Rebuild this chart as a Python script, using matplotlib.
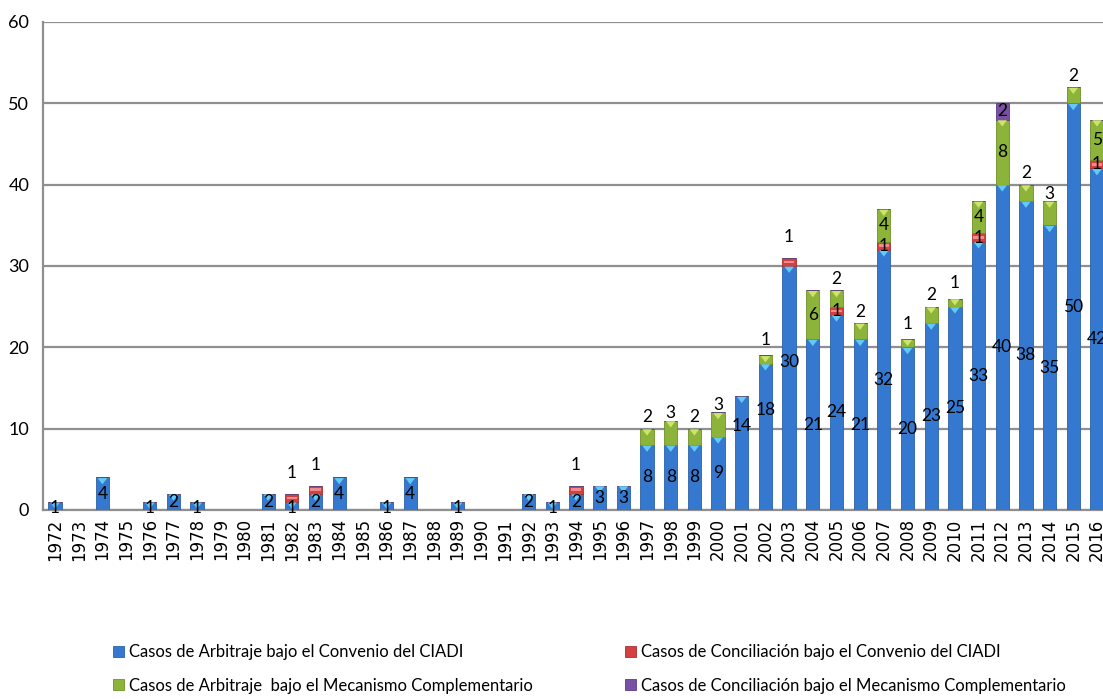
import matplotlib
matplotlib.use("Agg")
import matplotlib.pyplot as plt
from matplotlib.patches import Polygon, Rectangle
import numpy as np

years = [str(y) for y in range(1972, 2017)]
arbitraje_ciadi = [1, 0, 4, 0, 1, 2, 1, 0, 0, 2, 1, 2, 4, 0, 1, 4, 0, 1, 0, 0,
                   2, 1, 2, 3, 3, 8, 8, 8, 9, 14, 18, 30, 21, 24, 21, 32, 20, 23,
                   25, 33, 40, 38, 35, 50, 42]
conciliacion_ciadi = [0, 0, 0, 0, 0, 0, 0, 0, 0, 0, 1, 1, 0, 0, 0, 0, 0, 0, 0, 0,
                      0, 0, 1, 0, 0, 0, 0, 0, 0, 0, 0, 1, 0, 1, 0, 1, 0, 0,
                      0, 1, 0, 0, 0, 0, 1]
arbitraje_mc = [0, 0, 0, 0, 0, 0, 0, 0, 0, 0, 0, 0, 0, 0, 0, 0, 0, 0, 0, 0,
                0, 0, 0, 0, 0, 2, 3, 2, 3, 0, 1, 0, 6, 2, 2, 4, 1, 2,
                1, 4, 8, 2, 3, 2, 5]
conciliacion_mc = [0] * 40 + [2, 0, 0, 0, 0]

series_labels = [
    "Casos de Arbitraje bajo el Convenio del CIADI",
    "Casos de Conciliación bajo el Convenio del CIADI",
    "Casos de Arbitraje  bajo el Mecanismo Complementario",
    "Casos de Conciliación bajo el Mecanismo Complementario",
]
yticks = [0, 10, 20, 30, 40, 50, 60]

# manual nudges of the blue value labels (data units), as in the source
blue_label_nudge = {"2001": 3.3, "2002": 3.3, "2003": 3.2}

TXT = ["Lato", "DejaVu Sans"]

colors = ["#3479CF", "#D43F3F", "#8CB43A", "#7A4FA6"]
edges = ["#2A62A8", "#A83030", "#6F9028", "#5E3A85"]
light = ["#62CAF5", "#F28A8A", "#CDE46A", "#A889CC"]

fig = plt.figure(figsize=(11.03, 6.99), dpi=100)
ax = fig.add_axes([43.2 / 1103, 189 / 699, 1065.6 / 1103, 488 / 699])

x = np.arange(len(years))
w = 0.56
data = [np.array(arbitraje_ciadi), np.array(conciliacion_ciadi),
        np.array(arbitraje_mc), np.array(conciliacion_mc)]
bottom = np.zeros(len(years))
containers = []
for i, vals in enumerate(data):
    bc = ax.bar(x, vals, w, bottom=bottom, color=colors[i], edgecolor=edges[i],
                linewidth=0.6, label=series_labels[i], zorder=3)
    containers.append(bc)
    for rect, v in zip(bc, vals):
        if v <= 0:
            continue
        bx, by, bw, bh = rect.get_x(), rect.get_y(), rect.get_width(), rect.get_height()
        top = by + bh
        if i in (0, 2):
            tri = Polygon([[bx + bw * 0.14, top - 0.08], [bx + bw * 0.86, top - 0.08],
                           [bx + bw * 0.5, top - 0.85]], closed=True,
                          facecolor=light[i], edgecolor="none", zorder=4)
            ax.add_patch(tri)
        elif i == 1:
            ax.add_patch(Rectangle((bx + bw * 0.1, by + bh * 0.35), bw * 0.8, bh * 0.3,
                                   facecolor=light[i], edgecolor="none", zorder=4))
    bottom = bottom + vals

# value labels
tops = np.sum(data, axis=0)
for i, vals in enumerate(data):
    base = np.sum(data[:i], axis=0) if i > 0 else np.zeros(len(years))
    for j, v in enumerate(vals):
        if v <= 0:
            continue
        center = base[j] + v / 2.0
        is_top = abs(base[j] + v - tops[j]) < 1e-9
        off = 0
        yv = center
        if i == 0:
            yv = center + blue_label_nudge.get(years[j], 0.0)
            if v == 1:
                yv = center - 0.3
        elif i == 1:
            if is_top:
                off = 18
        elif i == 2:
            if v < 4 and is_top:
                off = 14
        ax.annotate(str(int(v)), (x[j], yv), xytext=(0, off), textcoords="offset points",
                    ha="center", va="center", fontsize=12.5, family=TXT,
                    color="black", zorder=6)

ax.set_xlim(-0.5, len(years) - 0.5)
ax.set_ylim(0, 60)
ax.set_yticks(yticks)
ax.set_yticklabels([str(t) for t in yticks], family=TXT, fontsize=13)
ax.set_xticks(x)
ax.set_xticklabels(years, rotation=90, family="DejaVu Sans", fontsize=12)
ax.tick_params(axis="both", length=0)
ax.tick_params(axis="y", pad=10)
ax.tick_params(axis="x", pad=6)
ax.grid(axis="y", color="#8F8F8F", linewidth=1.6, zorder=1)
ax.set_axisbelow(True)
for s in ["top", "right"]:
    ax.spines[s].set_visible(False)
for s in ["left", "bottom"]:
    ax.spines[s].set_color("#8F8F8F")
    ax.spines[s].set_linewidth(1.6)
    ax.spines[s].set_zorder(2)

leg_kw = dict(frameon=False, prop={"family": TXT, "size": 12}, handlelength=0.65,
              handleheight=0.65, handletextpad=0.3, labelspacing=1.05, borderpad=0,
              borderaxespad=0)
l1 = fig.legend([containers[0], containers[2]], [series_labels[0], series_labels[2]],
                loc="upper left", bbox_to_anchor=(113 / 1103, 1 - 644 / 699), **leg_kw)
l2 = fig.legend([containers[1], containers[3]], [series_labels[1], series_labels[3]],
                loc="upper left", bbox_to_anchor=(625 / 1103, 1 - 644 / 699), **leg_kw)

fig.savefig("out.png", dpi=100)
